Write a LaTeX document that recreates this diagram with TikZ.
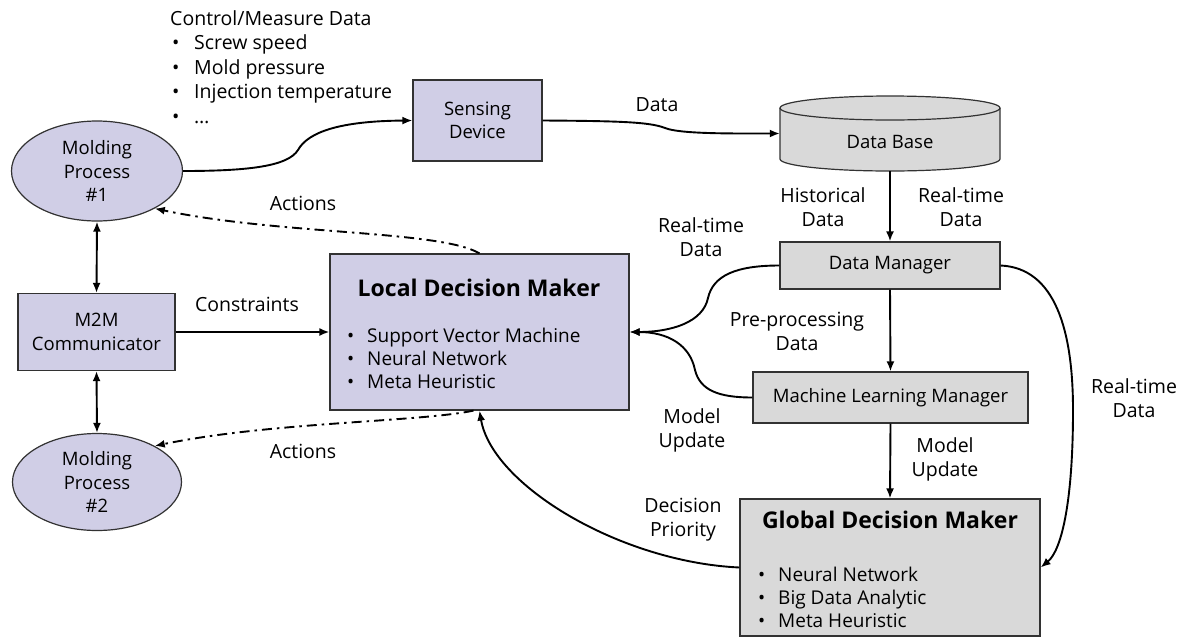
\documentclass[tikz,border=0pt]{standalone}
\usepackage{fontspec}
\setmainfont{Open Sans}
\usetikzlibrary{shapes.geometric,arrows.meta}
\definecolor{lavfill}{RGB}{208,206,230}
\definecolor{greyfill}{RGB}{217,217,217}
\definecolor{edge}{RGB}{50,50,50}
\newcommand\bitem[2]{\makebox[#1][l]{\hspace{2pt}\textbullet}#2}
\tikzset{
  lav/.style={draw=edge, line width=1.2pt, fill=lavfill, inner sep=0pt},
  gry/.style={draw=edge, line width=1.2pt, fill=greyfill, inner sep=0pt},
  boxtxt/.style={font=\fontsize{18.5}{23.5}\selectfont, align=center},
  lbl/.style={font=\fontsize{19.5}{24}\selectfont, align=center, inner sep=0pt},
  ttl/.style={font=\fontsize{23}{27}\selectfont\bfseries, inner sep=0pt},
  lst/.style={font=\fontsize{19}{23.3}\selectfont, align=left, inner sep=0pt, anchor=west},
  tip/.tip={Latex[length=10pt,width=8pt]},
  conn/.style={line width=1.9pt, -tip},
  dbl/.style={line width=1.9pt, tip-tip},
  act/.style={conn, dash pattern=on 10pt off 5pt on 2.5pt off 5pt},
}
\begin{document}
\begin{tikzpicture}[x=1pt,y=-1pt]
\fill[white] (0,0) rectangle (1190,643);
\useasboundingbox (0,0) rectangle (1190,643);

% molding processes and M2M communicator
\node[lav, ellipse, minimum width=171pt, minimum height=100pt, boxtxt] (m1) at (97,171) {Molding\\Process\\\#1};
\node[lav, ellipse, minimum width=169pt, minimum height=97pt, boxtxt] (m2) at (97,482) {Molding\\Process\\\#2};
\node[lav, minimum width=157pt, minimum height=77pt, boxtxt] (m2m) at (96.5,332) {M2M\\Communicator};

% sensing device
\node[lav, minimum width=129pt, minimum height=81pt, boxtxt] (sd) at (477.5,120.5) {Sensing\\Device};

% local decision maker
\node[lav, minimum width=299pt, minimum height=156pt] (ldm) at (479.5,332) {};
\node[ttl] (ldmt) at (479,288) {Local Decision Maker};
\node[lst] (ldml) at (345,358.5) {\bitem{22pt}{Support Vector Machine}\\\bitem{22pt}{Neural Network}\\\bitem{22pt}{Meta Heuristic}};

% data base cylinder
\fill[greyfill] (780,108) -- (780,159) .. controls (780,165.6) and (829.2,171) .. (890,171)
  .. controls (950.8,171) and (1000,165.6) .. (1000,159) -- (1000,108) -- cycle;
\fill[greyfill] (890,108) ellipse [x radius=110, y radius=12];
\draw[edge, line width=1.2pt] (780,108) -- (780,159) .. controls (780,165.6) and (829.2,171) .. (890,171)
  .. controls (950.8,171) and (1000,165.6) .. (1000,159) -- (1000,108);
\draw[edge, line width=1.2pt] (890,108) ellipse [x radius=110, y radius=12];
\node[minimum width=220pt, minimum height=75pt, inner sep=0pt] (db) at (890,133.5) {};
\node[boxtxt] (dbt) at (890,142) {Data Base};

% managers and global decision maker
\node[gry, minimum width=220pt, minimum height=47pt, boxtxt] (dm) at (890,265.5) {Data Manager};
\node[gry, minimum width=275pt, minimum height=51pt, boxtxt] (mlm) at (890.5,397.5) {Machine Learning Manager};
\node[gry, minimum width=300pt, minimum height=137pt] (gdm) at (890,567.5) {};
\node[ttl] (gdmt) at (890,520) {Global Decision Maker};
\node[lst] (gdml) at (756,597.5) {\bitem{22pt}{Neural Network}\\\bitem{22pt}{Big Data Analytic}\\\bitem{22pt}{Meta Heuristic}};

% measured quantities
\node[lst, font=\fontsize{19.5}{24.5}\selectfont] (ctrl) at (170,67) {Control/Measure Data\\\bitem{24pt}{Screw speed}\\\bitem{24pt}{Mold pressure}\\\bitem{24pt}{Injection temperature}\\\bitem{24pt}{\dots}};

% connectors
\draw[conn] (m1.east) .. controls (250,171) and (288,166) .. (298,150) .. controls (308,132) and (340,121) .. (sd.west);
\draw[conn] (sd.east) .. controls (620,121) and (650,122) .. (665,128) .. controls (680,134) and (730,133.5) .. (db.west);
\draw[conn] (db.south) -- (dm.north);
\draw[conn] (dm.south) -- (mlm.north);
\draw[conn] (mlm.south) -- (gdm.north);
\draw[conn] (dm.west) .. controls (735,265.5) and (713,276) .. (708,298) .. controls (703,322) and (672,332) .. (ldm.east);
\draw[conn] (mlm.west) .. controls (718,397.5) and (700,390) .. (695,370) .. controls (690,345) and (668,332) .. (ldm.east);
\draw[conn] (dm.east) .. controls (1055,268) and (1073,330) .. (1073,410) .. controls (1073,500) and (1062,550) .. (gdm.east);
\draw[conn] (gdm.west) .. controls (620,562) and (492,485) .. (ldm.south);
\draw[conn] (m2m.east) -- (ldm.west);
\draw[dbl] (m1.south) -- (m2m.north);
\draw[dbl] (m2m.south) -- (m2.north);
\draw[act] (ldm.north) .. controls (440,230) and (280,235) .. (m1.-33);
\draw[act] ([xshift=-6pt]ldm.south) .. controls (420,422) and (270,422) .. (m2.32);

% connector labels
\node[lbl] (l1) at (657,105) {Data};
\node[lbl] (l2) at (303,203) {Actions};
\node[lbl] (l3) at (303,451) {Actions};
\node[lbl] (l4) at (247,304) {Constraints};
\node[lbl] (l5) at (701,237) {Real-time\\Data};
\node[lbl] (l6) at (823,207) {Historical\\Data};
\node[lbl] (l7) at (961,207) {Real-time\\Data};
\node[lbl] (l8) at (797,331) {Pre-processing\\Data};
\node[lbl] (l9) at (692,430) {Model\\Update};
\node[lbl] (l10) at (945,459) {Model\\Update};
\node[lbl] (l11) at (683,520) {Decision\\Priority};
\node[lbl] (l12) at (1134,398) {Real-time\\Data};
\end{tikzpicture}
\end{document}
